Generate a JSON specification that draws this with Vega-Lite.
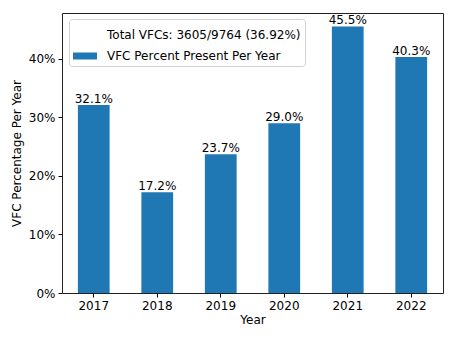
{
  "$schema": "https://vega.github.io/schema/vega-lite/v6.json",
  "width": 381,
  "height": 280,
  "autosize": "none",
  "padding": {"left": 62, "top": 13, "right": 14, "bottom": 50},
  "config": {
    "font": "DejaVu Sans",
    "view": {"stroke": "#222", "strokeWidth": 1},
    "axis": {
      "domain": false,
      "grid": false,
      "tickColor": "#000",
      "tickSize": 4,
      "labelFontSize": 12,
      "labelColor": "#000",
      "labelPadding": 3,
      "titleFontSize": 12,
      "titleFontWeight": "normal",
      "titleColor": "#000"
    }
  },
  "data": {
    "values": [
      {"year": "2017", "pct": 0.321, "series": "VFC Percent Present Per Year"},
      {"year": "2018", "pct": 0.172, "series": "VFC Percent Present Per Year"},
      {"year": "2019", "pct": 0.237, "series": "VFC Percent Present Per Year"},
      {"year": "2020", "pct": 0.290, "series": "VFC Percent Present Per Year"},
      {"year": "2021", "pct": 0.455, "series": "VFC Percent Present Per Year"},
      {"year": "2022", "pct": 0.403, "series": "VFC Percent Present Per Year"}
    ]
  },
  "encoding": {
    "x": {
      "field": "year",
      "type": "ordinal",
      "scale": {"paddingInner": 0.5, "paddingOuter": 0.25},
      "axis": {"labelAngle": 0, "title": "Year", "titlePadding": 3}
    },
    "y": {
      "field": "pct",
      "type": "quantitative",
      "scale": {"domain": [0, 0.478], "nice": false},
      "axis": {"format": ".0%", "values": [0, 0.1, 0.2, 0.3, 0.4], "title": "VFC Percentage Per Year", "titlePadding": 5}
    }
  },
  "layer": [
    {
      "mark": {"type": "bar"},
      "encoding": {
        "color": {
          "field": "series",
          "type": "nominal",
          "scale": {
            "domain": ["Total VFCs: 3605/9764 (36.92%)", "VFC Percent Present Per Year"],
            "range": ["transparent", "#1f77b4"]
          },
          "legend": {
            "title": null,
            "orient": "none",
            "legendX": 7,
            "legendY": 6,
            "symbolType": "M-1,-0.29H1V0.29H-1Z",
            "symbolSize": 576,
            "symbolStrokeWidth": 0,
            "labelFontSize": 12,
            "labelColor": "#000",
            "labelLimit": 0,
            "labelOffset": 10,
            "rowPadding": 3,
            "padding": 4,
            "strokeColor": "#d0d0d0",
            "fillColor": "#fff",
            "cornerRadius": 3
          }
        }
      }
    },
    {
      "mark": {"type": "text", "baseline": "alphabetic", "dy": -2, "fontSize": 12, "color": "#000"},
      "encoding": {
        "text": {"field": "pct", "type": "quantitative", "format": ".1%"}
      }
    }
  ]
}
